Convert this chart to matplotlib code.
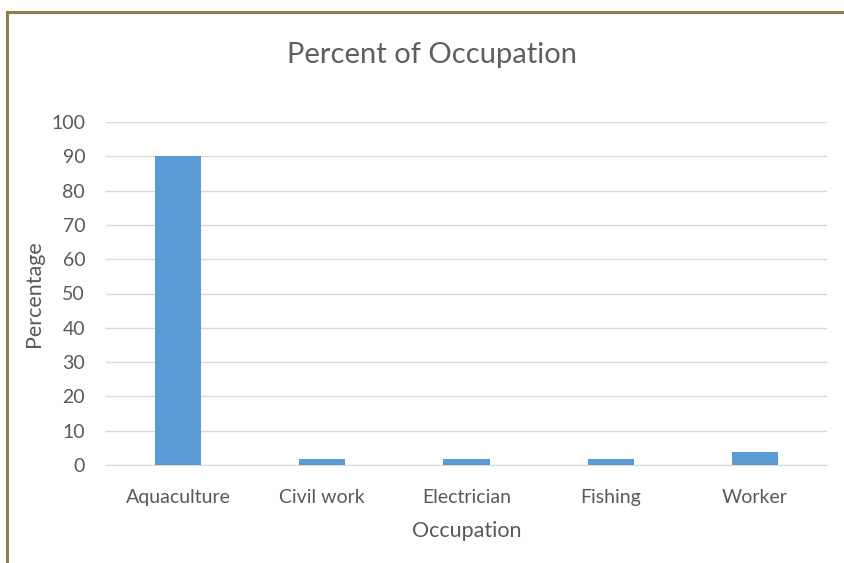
import matplotlib
matplotlib.use("Agg")
import matplotlib.pyplot as plt
from matplotlib.lines import Line2D

categories = ["Aquaculture", "Civil work", "Electrician", "Fishing", "Worker"]
percentages = [90.2, 1.8, 1.8, 1.8, 3.7]
y_ticks = [0, 10, 20, 30, 40, 50, 60, 70, 80, 90, 100]

W, H = 844, 563
fig = plt.figure(figsize=(W / 100, H / 100), dpi=100)
fig.patch.set_facecolor("white")

ax = fig.add_axes([106 / W, 1 - 465 / H, 721 / W, 343 / H])
x = list(range(len(categories)))
ax.bar(x, percentages, width=0.32, color="#5B9BD5", zorder=3)

ax.set_xlim(-0.5, len(categories) - 0.5)
ax.set_ylim(0, 100)
ax.set_yticks(y_ticks)
ax.set_xticks(x)
ax.set_xticklabels(categories)

font = "Lato"
text_color = "#595959"
for lbl in ax.get_xticklabels() + ax.get_yticklabels():
    lbl.set_fontfamily(font)
    lbl.set_fontsize(14)
    lbl.set_color(text_color)

ax.tick_params(axis="both", length=0)
ax.tick_params(axis="y", pad=15)
ax.tick_params(axis="x", pad=17)
ax.grid(axis="y", color="#D9D9D9", linewidth=1, zorder=0)
for side in ["top", "right", "left"]:
    ax.spines[side].set_visible(False)
ax.spines["bottom"].set_color("#D9D9D9")

ax.set_xlabel("Occupation", fontfamily=font, fontsize=15.5, color=text_color, labelpad=11)
ax.set_ylabel("Percentage", fontfamily=font, fontsize=15.5, color=text_color, labelpad=5)
fig.text(432 / W, 1 - 55 / H, "Percent of Occupation", ha="center", va="center",
         fontfamily=font, fontsize=21, color="#5F5F5F")

# outer frame: top and left edges
frame_color = "#8C7F4E"
fig.add_artist(Line2D([7 / W, 1.0], [1 - 12 / H, 1 - 12 / H], color=frame_color,
                      linewidth=2.2, transform=fig.transFigure))
fig.add_artist(Line2D([7 / W, 7 / W], [0.0, 1 - 12 / H], color=frame_color,
                      linewidth=2.2, transform=fig.transFigure))

fig.savefig("out.png", dpi=100, facecolor="white")
